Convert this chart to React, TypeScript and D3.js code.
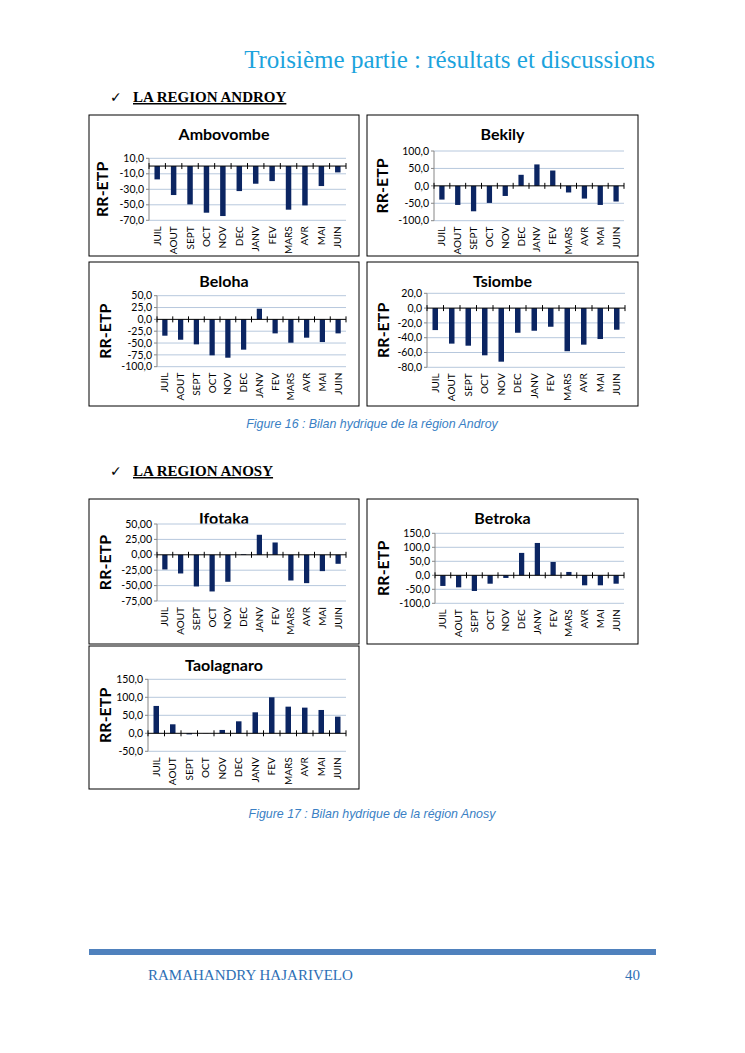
import * as d3 from 'd3';

const MONTHS = ['JUIL', 'AOUT', 'SEPT', 'OCT', 'NOV', 'DEC', 'JANV', 'FEV', 'MARS', 'AVR', 'MAI', 'JUIN'];

// RR-ETP values (mm)
const AMBOVOMBE = [-17.2, -37.4, -49.5, -60.2, -64.5, -32.3, -22.8, -19.4, -56.3, -50.8, -25.8, -8.2];
const BEKILY = [-39.4, -54.8, -73.0, -49.0, -29.0, 31.7, 61.5, 44.0, -19.0, -36.5, -54.8, -45.0];
const BELOHA = [-34.5, -43.0, -52.8, -76.0, -81.0, -64.0, 22.5, -29.6, -49.3, -38.7, -47.9, -29.6];
const TSIOMBE = [-29.7, -48.0, -50.8, -63.8, -72.4, -33.3, -30.6, -25.2, -58.3, -49.4, -41.8, -29.2];
const IFOTAKA = [-23.8, -30.3, -51.4, -59.5, -43.8, 1.0, 32.5, 20.0, -41.7, -46.0, -26.5, -14.6];
const BETROKA = [-38.0, -43.0, -56.0, -30.0, -9.5, 80.0, 115.5, 47.6, 12.0, -35.7, -35.7, -30.0];
const TAOLAGNARO = [76.0, 25.0, -3.0, 0.5, 9.3, 33.3, 58.3, 100.0, 74.0, 71.3, 64.8, 46.3];

const AMBOVOMBE_TICKS = [10, -10, -30, -50, -70];
const BEKILY_TICKS = [100, 50, 0, -50, -100];
const BELOHA_TICKS = [50, 25, 0, -25, -50, -75, -100];
const TSIOMBE_TICKS = [20, 0, -20, -40, -60, -80];
const IFOTAKA_TICKS = [50, 25, 0, -25, -50, -75];
const BETROKA_TICKS = [150, 100, 50, 0, -50, -100];
const TAOLAGNARO_TICKS = [150, 100, 50, 0, -50];

const frLocale = d3.formatLocale({
  decimal: ',',
  thousands: ' ',
  grouping: [3],
  currency: ['', ''],
  minus: '-',
});

const FONT = "Lato, 'Open Sans', sans-serif";
const BAR = '#0b2562';
const GRID = '#b7c8dd';

type PanelProps = {
  title: string;
  values: number[];
  ticks: number[];
  decimals: number;
  box: [number, number, number, number]; // x0, y0, x1, y1
  plot: [number, number, number, number]; // left, top, right, bottom
  labelX: number;
};

function Panel({ title, values, ticks, decimals, box, plot, labelX }: PanelProps) {
  const [bx0, by0, bx1, by1] = box;
  const [left, top, right, bottom] = plot;
  const fmt = frLocale.format(`.${decimals}f`);

  const x = d3.scaleBand<string>().domain(MONTHS).range([left, right]).paddingInner(2 / 3).paddingOuter(1 / 3);
  const y = d3
    .scaleLinear()
    .domain([d3.min(ticks)!, d3.max(ticks)!])
    .range([bottom, top]);
  const step = x.step();
  const y0 = y(0);

  return (
    <g>
      <rect x={bx0} y={by0} width={bx1 - bx0} height={by1 - by0} fill="#fff" stroke="#000" strokeWidth={1} />
      <text x={(bx0 + bx1) / 2} y={by0 + 25} textAnchor="middle" fontFamily={FONT} fontWeight="bold" fontSize={16}>
        {title}
      </text>
      <text
        transform={`translate(${labelX},${(top + bottom) / 2}) rotate(-90)`}
        textAnchor="middle"
        dy="0.35em"
        fontFamily={FONT}
        fontWeight="bold"
        fontSize={16}
      >
        RR-ETP
      </text>

      {/* gridlines + y ticks */}
      {ticks.map((t) => (
        <g key={t}>
          {t !== 0 && <line x1={left} x2={right} y1={y(t)} y2={y(t)} stroke={GRID} strokeWidth={1} />}
          <line x1={left - 3} x2={left} y1={y(t)} y2={y(t)} stroke="#868686" strokeWidth={1} />
          <text x={left - 5} y={y(t)} dy="0.35em" textAnchor="end" fontFamily={FONT} fontSize={10.5} fill="#000">
            {fmt(t)}
          </text>
        </g>
      ))}
      <line x1={left} x2={left} y1={top} y2={bottom} stroke="#868686" strokeWidth={1} />

      {/* bars */}
      {values.map((v, i) => (
        <rect
          key={MONTHS[i]}
          x={x(MONTHS[i])!}
          width={x.bandwidth()}
          y={Math.min(y(v), y0)}
          height={Math.abs(y(v) - y0)}
          fill={BAR}
        />
      ))}

      {/* zero axis */}
      <line x1={left} x2={right} y1={y0} y2={y0} stroke="#000" strokeWidth={1} />
      {d3.range(MONTHS.length + 1).map((i) => (
        <line key={i} x1={left + i * step} x2={left + i * step} y1={y0 - 3} y2={y0 + 3} stroke="#000" strokeWidth={1} />
      ))}

      {/* month labels */}
      {MONTHS.map((m) => (
        <text
          key={m}
          transform={`translate(${x(m)! + x.bandwidth() / 2},${bottom + 6}) rotate(-90)`}
          textAnchor="end"
          dy="0.35em"
          fontFamily={FONT}
          fontSize={10}
        >
          {m}
        </text>
      ))}
    </g>
  );
}

export default function App() {
  const serif = "'Liberation Serif', 'Times New Roman', serif";
  const caption = "'Liberation Sans', Arial, sans-serif";
  return (
    <svg width={745} height={1053} style={{ position: 'absolute', top: 0, left: 0, background: '#fff' }}>
      <rect width={745} height={1053} fill="#fff" />
      <text x={655} y={68} textAnchor="end" fontFamily={serif} fontSize={25} fill="#1ca3dd">
        Troisième partie : résultats et discussions
      </text>

      <text x={110} y={102} fontFamily="'DejaVu Sans', sans-serif" fontSize={14}>✓</text>
      <text x={133} y={102} fontFamily={serif} fontSize={15} fontWeight="bold" textDecoration="underline">
        LA REGION ANDROY
      </text>

      <Panel title="Ambovombe" values={AMBOVOMBE} ticks={AMBOVOMBE_TICKS} decimals={1}
        box={[89, 115, 359, 256]} plot={[149, 158.3, 346, 220.3]} labelX={102} />
      <Panel title="Bekily" values={BEKILY} ticks={BEKILY_TICKS} decimals={1}
        box={[367, 115, 638, 256]} plot={[434, 151, 624, 220.7]} labelX={382} />
      <Panel title="Beloha" values={BELOHA} ticks={BELOHA_TICKS} decimals={1}
        box={[89, 262, 359, 406]} plot={[157, 295.7, 346, 366.7]} labelX={105} />
      <Panel title="Tsiombe" values={TSIOMBE} ticks={TSIOMBE_TICKS} decimals={1}
        box={[367, 262, 638, 406]} plot={[427, 293.3, 625, 367.3]} labelX={383} />

      <text x={372} y={428} textAnchor="middle" fontFamily={caption} fontStyle="italic" fontSize={12.4} fill="#3a7fc4">
        Figure 16 : Bilan hydrique de la région Androy
      </text>

      <text x={110} y={476} fontFamily="'DejaVu Sans', sans-serif" fontSize={14}>✓</text>
      <text x={133} y={476} fontFamily={serif} fontSize={15} fontWeight="bold" textDecoration="underline">
        LA REGION ANOSY
      </text>

      <Panel title="Ifotaka" values={IFOTAKA} ticks={IFOTAKA_TICKS} decimals={2}
        box={[89, 499, 359, 644]} plot={[157, 524, 346, 601]} labelX={105} />
      <Panel title="Betroka" values={BETROKA} ticks={BETROKA_TICKS} decimals={1}
        box={[367, 499, 638, 644]} plot={[435, 533.3, 624, 603.3]} labelX={383} />
      <Panel title="Taolagnaro" values={TAOLAGNARO} ticks={TAOLAGNARO_TICKS} decimals={1}
        box={[89, 646, 359, 789]} plot={[148, 679.3, 346, 751.3]} labelX={105} />

      <text x={372} y={818} textAnchor="middle" fontFamily={caption} fontStyle="italic" fontSize={12.4} fill="#3a7fc4">
        Figure 17 : Bilan hydrique de la région Anosy
      </text>

      <rect x={89} y={949} width={567} height={6} fill="#4f81bd" />
      <text x={148} y={980} fontFamily={serif} fontSize={15} fill="#2e6fb5">
        RAMAHANDRY HAJARIVELO
      </text>
      <text x={640} y={980} textAnchor="end" fontFamily={serif} fontSize={15} fill="#2e6fb5">
        40
      </text>
    </svg>
  );
}
